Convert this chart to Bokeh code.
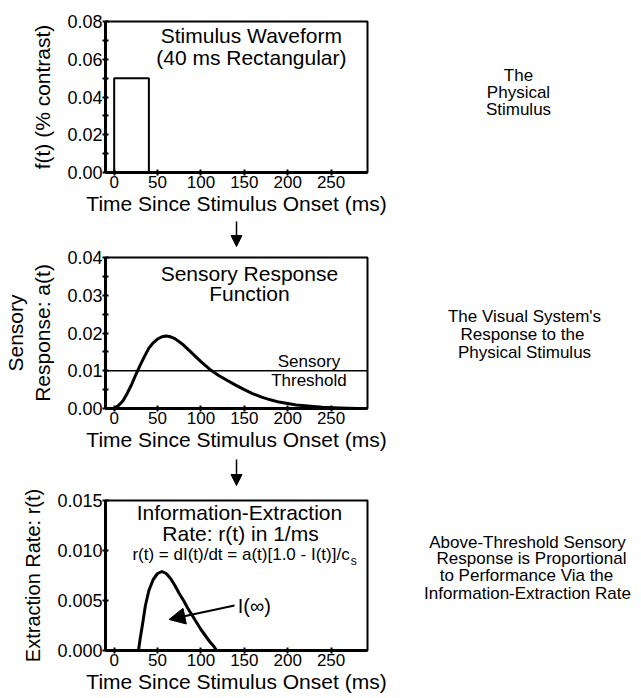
from bokeh.plotting import figure
from bokeh.models import (Range1d, FixedTicker, PrintfTickFormatter, Label, Span,
                          Arrow, NormalHead)
from bokeh.layouts import column, row
from bokeh.embed import file_html
from bokeh.resources import INLINE

FONT = "Liberation Sans"

# ---------------- data ----------------
stim_onset = [0]          # ms
stim_offset = [40]        # ms
stim_amp = [0.05]         # % contrast

a_t = [0, 5, 10, 15, 20, 25, 30, 35, 40, 45, 50, 55, 60, 65, 70, 80, 90, 100,
       110, 120, 130, 140, 150, 160, 170, 180, 190, 200, 210, 220, 240, 260, 280, 292]
a_val = [0, 0.0008, 0.002, 0.004, 0.0063, 0.009, 0.0115, 0.0138, 0.016, 0.0174,
         0.0184, 0.019, 0.0192, 0.019, 0.0185, 0.0168, 0.0146, 0.0124, 0.0104,
         0.0088, 0.0075, 0.0062, 0.005, 0.0039, 0.003, 0.0023, 0.0017, 0.0013,
         0.0009, 0.0007, 0.0003, 0.0001, 0.0, 0.0]
threshold = 0.01

r_t = [28, 30, 33, 36, 40, 45, 50, 55, 60, 65, 70, 75, 80, 85, 90, 95, 100,
       105, 110, 115, 118]
r_val = [0, 0.0012, 0.0028, 0.0045, 0.006, 0.0071, 0.0077, 0.0079, 0.0077,
         0.0072, 0.0065, 0.0057, 0.005, 0.0042, 0.0035, 0.0028, 0.0021, 0.0015,
         0.0009, 0.0004, 0]

x_ticks = [0, 50, 100, 150, 200, 250]
y1_ticks = [0.0, 0.02, 0.04, 0.06, 0.08]
y1_minor = [0.01, 0.03, 0.05, 0.07]
y2_ticks = [0.0, 0.01, 0.02, 0.03, 0.04]
y2_minor = [0.005, 0.015, 0.025, 0.035]
y3_ticks = [0.0, 0.005, 0.010, 0.015]

right_texts = [
    ["The", "Physical", "Stimulus"],
    ["The Visual System's", "Response to the", "Physical Stimulus"],
    ["Above-Threshold Sensory", "Response is Proportional",
     "to Performance Via the", "Information-Extraction Rate"],
]

X_START, X_END = -10, 292
W = 641
CW = 392          # width of the chart column
FL, FR = 103, 367  # frame left / right (page px), shared by the stacked panels


class Geom:
    def __init__(self, top, height, T, B, y0, y1):
        self.top, self.height = top, height
        self.L, self.R, self.T, self.B = FL, FR, T, B
        self.y0, self.y1 = y0, y1

    def x(self, px):
        return X_START + (px - self.L) * (X_END - X_START) / (self.R - self.L)

    def y(self, py):
        return self.y0 + (self.y1 - self.y0) * (self.B - py) / (self.B - self.T)


def make_fig(g, yticks, yminor, yfmt, ylabel, ylabel_size=21):
    p = figure(width=CW, height=g.height,
               x_range=Range1d(X_START, X_END), y_range=Range1d(g.y0, g.y1),
               output_backend="svg", toolbar_location=None,
               min_border_left=g.L, min_border_right=CW - g.R,
               min_border_top=g.T - g.top,
               min_border_bottom=g.height - (g.B - g.top))
    p.grid.visible = False
    p.outline_line_color = "black"
    p.outline_line_width = 2
    p.background_fill_color = "white"
    p.border_fill_color = "white"

    ax = p.xaxis[0]
    ax.ticker = FixedTicker(ticks=x_ticks)
    ax.axis_label = "Time Since Stimulus Onset (ms)"
    ay = p.yaxis[0]
    ay.ticker = FixedTicker(ticks=yticks, minor_ticks=yminor)
    ay.formatter = PrintfTickFormatter(format=yfmt)
    ay.axis_label = ylabel
    for a in (ax, ay):
        a.axis_line_width = 3
        a.axis_line_color = "black"
        a.major_tick_in = 3
        a.major_tick_out = 3
        a.major_tick_line_width = 2
        a.major_tick_line_color = "black"
        a.minor_tick_in = 3
        a.minor_tick_out = 3
        a.minor_tick_line_width = 2
        a.minor_tick_line_color = "black"
        a.major_label_text_font = FONT
        a.major_label_text_color = "black"
        a.axis_label_text_font = FONT
        a.axis_label_text_font_style = "normal"
        a.axis_label_text_color = "black"
        a.axis_label_text_font_size = "21px"
        a.major_label_standoff = 0
        a.axis_label_standoff = 1
    ax.major_label_text_font_size = "17px"
    ay.major_label_text_font_size = "18px"
    ay.axis_label_text_font_size = f"{ylabel_size}px"
    ay.axis_label_standoff = 10
    return p


def put(p, g, px, py, text, size, align="center"):
    p.add_layout(Label(x=g.x(px), y=g.y(py), text=text, text_font=FONT,
                       text_font_size=f"{size}px", text_align=align,
                       text_baseline="middle", text_color="black"))


def blank_fig(width, height, xr, yr, bl=0, br=0):
    p = figure(width=width, height=height, title=None,
               x_range=xr, y_range=yr,
               output_backend="svg", toolbar_location=None,
               x_axis_type=None, y_axis_type=None,
               min_border=0, min_border_left=bl, min_border_right=br,
               min_border_top=0, min_border_bottom=0)
    p.grid.visible = False
    p.outline_line_color = None
    p.background_fill_color = "white"
    p.border_fill_color = "white"
    return p


def arrow_fig(top, height, px, py0, py1):
    # same horizontal frame / scale as the chart panels; y in page pixels
    g = Geom(top, height, top, top + height, top + height, top)
    p = blank_fig(CW, height, Range1d(X_START, X_END), Range1d(top + height, top),
                  bl=FL, br=CW - FR)
    p.add_layout(Arrow(end=NormalHead(size=11, fill_color="black", line_color="black"),
                       x_start=g.x(px), y_start=py0, x_end=g.x(px), y_end=py1,
                       line_width=1.5, line_color="black"))
    return p


# ---------------- panel 1 ----------------
g1 = Geom(top=0, height=220, T=21, B=172, y0=0, y1=0.08)
p1 = make_fig(g1, y1_ticks, y1_minor, "%.2f", "f(t) (% contrast)")
p1.quad(left=stim_onset, right=stim_offset, bottom=[0], top=stim_amp,
        fill_color=None, line_color="black", line_width=2)
put(p1, g1, 250, 35, "Stimulus Waveform", 21)
put(p1, g1, 250, 57, "(40 ms Rectangular)", 21)

a1 = arrow_fig(220, 27, 235, 221, 246)

# ---------------- panel 2 ----------------
g2 = Geom(top=247, height=209, T=257, B=408, y0=0, y1=0.04)
p2 = make_fig(g2, y2_ticks, y2_minor, "%.2f", "Sensory\nResponse: a(t)")
p2.add_layout(Span(location=threshold, dimension="width", line_color="black",
                   line_width=1.3))
p2.line(a_t, a_val, line_color="black", line_width=3, line_join="round")
put(p2, g2, 248, 273, "Sensory Response", 21)
put(p2, g2, 248, 293, "Function", 21)
put(p2, g2, 308, 361, "Sensory", 17)
put(p2, g2, 308, 380, "Threshold", 17)

a2 = arrow_fig(456, 30, 235, 459, 485)

# ---------------- panel 3 ----------------
g3 = Geom(top=486, height=212, T=500, B=650, y0=0, y1=0.015)
p3 = make_fig(g3, y3_ticks, [], "%.3f", "Extraction Rate: r(t)", ylabel_size=20)
p3.line(r_t, r_val, line_color="black", line_width=3, line_join="round")
put(p3, g3, 238, 512, "Information-Extraction", 21)
put(p3, g3, 239, 533, "Rate: r(t) in 1/ms", 21)
put(p3, g3, 349, 554, "r(t) = dI(t)/dt = a(t)[1.0 - I(t)]/c", 17, align="right")
put(p3, g3, 350, 560, "s", 12, align="left")
put(p3, g3, 253, 605, "I(\u221e)", 20)
p3.add_layout(Arrow(end=NormalHead(size=16, fill_color="black", line_color="black"),
                    x_start=g3.x(233), y_start=g3.y(605),
                    x_end=g3.x(167), y_end=g3.y(619),
                    line_width=2, line_color="black"))

# ---------------- right-hand descriptions ----------------
pt = blank_fig(W - CW, 698, Range1d(CW, W), Range1d(698, 0))
text_rows = [
    (right_texts[0], [(518, 75), (518, 92), (518, 109)]),
    (right_texts[1], [(524, 316), (522, 334), (524, 352)]),
    (right_texts[2], [(527, 542), (531, 558), (526, 575), (527, 593)]),
]
for lines, spots in text_rows:
    for txt, (px, py) in zip(lines, spots):
        pt.add_layout(Label(x=px, y=py, text=txt, text_font=FONT,
                            text_font_size="17px", text_align="center",
                            text_baseline="middle", text_color="black"))

layout = row(column(p1, a1, p2, a2, p3, spacing=0), pt, spacing=0)
open("out.html", "w").write(file_html(layout, INLINE))
